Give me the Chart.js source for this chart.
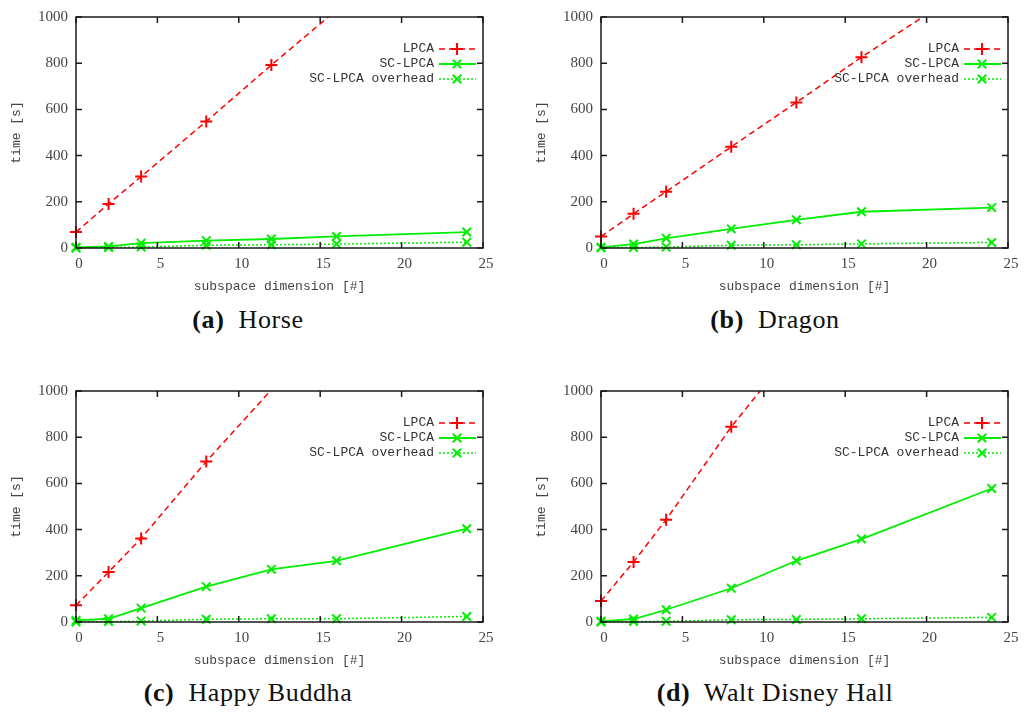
<!DOCTYPE html>
<html>
<head>
<meta charset="utf-8">
<script src="https://cdn.jsdelivr.net/npm/chart.js@4.4.1/dist/chart.umd.min.js"></script>
<style>
  body { margin: 0; background: #fff; width: 1024px; height: 713px; position: relative; overflow: hidden; }
  canvas { position: absolute; }
  .cap { position: absolute; width: 400px; text-align: center; font-family: "Liberation Serif", serif; font-size: 26px; letter-spacing: 0.6px; color: #111; line-height: 30px; }
  .cap b { margin-right: 7px; }
</style>
</head>
<body>
<canvas id="horse" width="500" height="300" style="left:0;top:0"></canvas>
<canvas id="dragon" width="500" height="300" style="left:525px;top:0"></canvas>
<canvas id="buddha" width="500" height="300" style="left:0;top:374px"></canvas>
<canvas id="disney" width="500" height="300" style="left:525px;top:374px"></canvas>
<div class="cap" style="left:48px;top:305px"><b>(a)</b> Horse</div>
<div class="cap" style="left:575px;top:305px"><b>(b)</b> Dragon</div>
<div class="cap" style="left:48px;top:678px"><b>(c)</b> Happy Buddha</div>
<div class="cap" style="left:575px;top:678px"><b>(d)</b> Walt Disney Hall</div>
<script>
'use strict';
// subspace dimensions (x values)
var dims = [0, 2, 4, 8, 12, 16, 24];
var seriesNames = ['LPCA', 'SC-LPCA', 'SC-LPCA overhead'];
var xTicks = [0, 5, 10, 15, 20, 25];
var yTicks = [0, 200, 400, 600, 800, 1000];

// times in seconds (LPCA leaves the plot at the top)
var lpcaHorse = [69, 191, 309, 548, 792, 1030];
var scHorse = [3, 7, 21, 32, 39, 50, 69];
var ovHorse = [0, 2, 4, 12, 14, 17, 25];

var lpcaDragon = [50, 148, 244, 438, 630, 826, 1195];
var scDragon = [3, 17, 42, 83, 122, 157, 175];
var ovDragon = [1, 2, 4, 12, 14, 18, 24];

var lpcaBuddha = [72, 216, 362, 695, 1005];
var scBuddha = [7, 14, 60, 153, 228, 265, 404];
var ovBuddha = [0, 2, 4, 12, 14, 14, 24];

var lpcaDisney = [91, 260, 443, 845, 1195];
var scDisney = [3, 13, 53, 146, 265, 359, 578];
var ovDisney = [0, 2, 3, 10, 11, 14, 20];

var RED = '#ff0000';
var GREEN = '#00ee00';
var tickFont = {family: '"Liberation Serif", serif', size: 15};
var textFont = {family: '"Liberation Mono", monospace', size: 13};

function toPoints(vals) {
  return vals.map((v, i) => ({x: dims[i], y: v}));
}

// gnuplot style box with inward ticks + legend inside top right
var framePlugin = {
  id: 'frame',
  afterDatasetsDraw(chart) {
    let ctx = chart.ctx, a = chart.chartArea;
    let xs = chart.scales.x, ys = chart.scales.y;
    ctx.save();
    ctx.strokeStyle = '#1a1a1a';
    ctx.lineWidth = 1.5;
    ctx.setLineDash([]);
    ctx.strokeRect(a.left, a.top, a.right - a.left, a.bottom - a.top);
    ctx.beginPath();
    xTicks.forEach(t => {
      let px = xs.getPixelForValue(t);
      ctx.moveTo(px, a.bottom); ctx.lineTo(px, a.bottom - 6);
      ctx.moveTo(px, a.top); ctx.lineTo(px, a.top + 6);
    });
    yTicks.forEach(t => {
      let py = ys.getPixelForValue(t);
      ctx.moveTo(a.left, py); ctx.lineTo(a.left + 6, py);
      ctx.moveTo(a.right, py); ctx.lineTo(a.right - 6, py);
    });
    ctx.stroke();

    //legend
    chart.data.datasets.forEach((ds, i) => {
      let y = a.top + 32 + i * 15;
      ctx.font = '13px "Liberation Mono"';
      ctx.fillStyle = '#333';
      ctx.textAlign = 'right';
      ctx.textBaseline = 'middle';
      ctx.fillText(ds.label, a.right - 49, y);
      ctx.strokeStyle = ds.borderColor;
      ctx.lineWidth = ds.borderWidth;
      ctx.setLineDash(ds.borderDash || []);
      ctx.beginPath();
      ctx.moveTo(a.right - 44, y);
      ctx.lineTo(a.right - 7, y);
      ctx.stroke();
      ctx.setLineDash([]);
      ctx.lineWidth = 2;
      Chart.helpers.drawPoint(ctx, {pointStyle: ds.pointStyle, radius: 6, rotation: 0, borderWidth: 2}, a.right - 26, y);
    });
    ctx.restore();
  }
};

function hideOutside(c) {
  return c.raw && c.raw.y > 1000 ? 0 : 6;
}

function drawPanel(id, lpca, sc, ov) {
  let ctx = document.getElementById(id).getContext('2d');
  new Chart(ctx, {
    type: 'line',
    data: {
      datasets: [{
        label: seriesNames[0],
        data: toPoints(lpca),
        borderColor: RED,
        backgroundColor: RED,
        borderWidth: 1.5,
        borderDash: [6, 4],
        pointStyle: 'cross',
        pointRadius: hideOutside,
        pointBorderWidth: 2,
        clip: {left: 10, right: 10, top: 0, bottom: 10}
      }, {
        label: seriesNames[1],
        data: toPoints(sc),
        borderColor: GREEN,
        backgroundColor: GREEN,
        borderWidth: 1.8,
        pointStyle: 'crossRot',
        pointRadius: 6,
        pointBorderWidth: 2,
        clip: {left: 10, right: 10, top: 0, bottom: 10}
      }, {
        label: seriesNames[2],
        data: toPoints(ov),
        borderColor: GREEN,
        backgroundColor: GREEN,
        borderWidth: 1.5,
        borderDash: [2, 2],
        pointStyle: 'crossRot',
        pointRadius: 6,
        pointBorderWidth: 2,
        clip: {left: 10, right: 10, top: 0, bottom: 10}
      }]
    },
    options: {
      responsive: false,
      animation: false,
      layout: {padding: {top: 7.5, right: 17, left: 0, bottom: 0}},
      plugins: {legend: {display: false}, tooltip: {enabled: false}},
      scales: {
        x: {
          type: 'linear', min: 0, max: 25,
          afterFit(s) { s.height = 52; },
          afterBuildTicks(s) { s.ticks = xTicks.map(v => ({value: v})); },
          grid: {display: false, drawTicks: false},
          border: {display: false},
          ticks: {font: tickFont, color: '#444', padding: 7, labelOffset: 3, maxRotation: 0, callback: v => String(v)},
          title: {display: true, text: 'subspace dimension [#]', font: textFont, color: '#444', padding: {top: 0, bottom: 6}}
        },
        y: {
          min: 0, max: 1000,
          afterFit(s) { s.width = 76; },
          afterBuildTicks(s) { s.ticks = yTicks.map(v => ({value: v})); },
          grid: {display: false, drawTicks: false},
          border: {display: false},
          ticks: {font: tickFont, color: '#444', padding: 8, callback: v => String(v)},
          title: {display: true, text: 'time [s]', font: textFont, color: '#444', padding: {top: 9, bottom: 0}}
        }
      }
    },
    plugins: [framePlugin]
  });
}

drawPanel('horse', lpcaHorse, scHorse, ovHorse);
drawPanel('dragon', lpcaDragon, scDragon, ovDragon);
drawPanel('buddha', lpcaBuddha, scBuddha, ovBuddha);
drawPanel('disney', lpcaDisney, scDisney, ovDisney);
</script>
</body>
</html>
